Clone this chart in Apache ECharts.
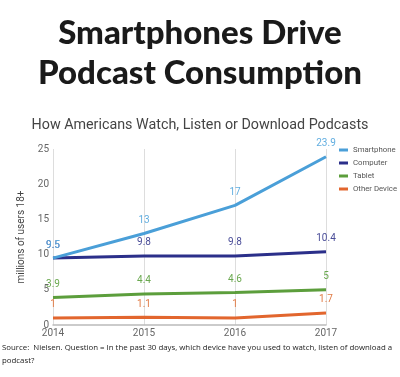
<!DOCTYPE html>
<html><head><meta charset="utf-8">
<script src="https://cdn.jsdelivr.net/npm/echarts@6/dist/echarts.min.js"></script>
<style>html,body{margin:0;padding:0;background:#fff}#c{width:400px;height:377px}</style>
</head><body><div id="c"></div>
<script>
const years = ['2014', '2015', '2016', '2017'];
const smartphone = [9.5, 13, 17, 23.9];
const computer = [9.5, 9.8, 9.8, 10.4];
const tablet = [3.9, 4.4, 4.6, 5];
const otherDevice = [1, 1.1, 1, 1.7];
const seriesNames = ['Smartphone', 'Computer', 'Tablet', 'Other Device'];
const colors = ['#4a9fd8', '#2b2f8a', '#5c9e3c', '#e2662e'];
const labelColors = ['#62aee0', '#4a4d98', '#6aa84f', '#e07b45'];

const chart = echarts.init(document.getElementById('c'), null, {renderer: 'canvas'});
const mk = (name, data, i) => ({
  name, type: 'line', data, symbol: 'circle', symbolSize: 0.1, showSymbol: true,
  lineStyle: {width: 3, color: colors[i]}, itemStyle: {color: colors[i]},
  label: {show: true, position: 'top', distance: 8, color: labelColors[i], fontSize: 10, fontFamily: 'Roboto'},
  labelLayout: {hideOverlap: false},
  z: 10 - i
});
chart.setOption({
  animation: false,
  title: [
    {text: 'Smartphones Drive\nPodcast Consumption', left: 'center', top: 8,
     textStyle: {fontFamily: 'Lato', fontWeight: 900, fontSize: 33, lineHeight: 40, color: '#1a1a1a'}},
    {text: 'How Americans Watch, Listen or Download Podcasts', left: 'center', top: 113,
     textStyle: {fontFamily: 'Roboto', fontWeight: 'normal', fontSize: 14.3, color: '#444'}}
  ],
  legend: {
    orient: 'vertical', left: 334, top: 141, itemGap: 5, itemWidth: 9, itemHeight: 3,
    icon: 'rect', textStyle: {fontSize: 7.8, color: '#555', fontFamily: 'Roboto'},
    data: seriesNames
  },
  grid: {left: 53, right: 74, top: 149, bottom: 52, outerBoundsMode: 'none', containLabel: false},
  xAxis: {
    type: 'category', data: years, boundaryGap: false,
    axisLine: {lineStyle: {color: '#bbb', width: 1.5}}, axisTick: {show: false},
    axisLabel: {color: '#666', fontSize: 10, margin: 3, fontFamily: 'Roboto'},
    splitLine: {show: true, lineStyle: {color: '#ddd', width: 1}}
  },
  yAxis: {
    type: 'value', min: 0, max: 25, interval: 5,
    name: 'millions of users 18+', nameLocation: 'middle', nameGap: 24,
    nameTextStyle: {fontSize: 10, color: '#444', fontFamily: 'Roboto'},
    axisLine: {show: false}, axisTick: {show: false},
    axisLabel: {color: '#666', fontSize: 10, margin: 4, fontFamily: 'Roboto'},
    splitLine: {show: false}
  },
  series: [
    mk(seriesNames[0], smartphone, 0),
    mk(seriesNames[1], computer, 1),
    mk(seriesNames[2], tablet, 2),
    mk(seriesNames[3], otherDevice, 3)
  ],
  graphic: [
    {type: 'text', left: 2, top: 341, style: {
      text: 'Source:  Nielsen. Question = In the past 30 days, which device have you used to watch, listen of download a\npodcast?',
      fontSize: 7.85, lineHeight: 13, fill: '#222', fontFamily: 'Open Sans'}}
  ]
});
</script></body></html>
